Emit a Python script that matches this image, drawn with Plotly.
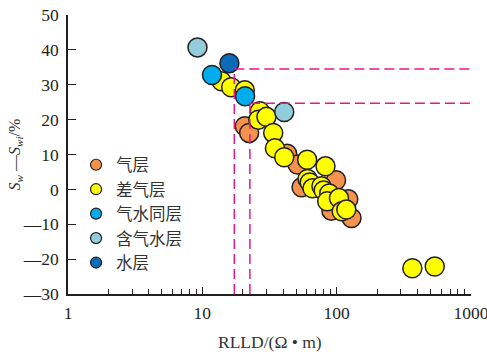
import plotly.graph_objects as go

# Resistivity (RLLD, ohm·m) and Sw - Swi (%) for each layer type
gas_x = [20.7, 22.3, 42.8, 51.1, 54.8, 99, 122, 91.4, 129]
gas_y = [18.1, 16.2, 10.2, 7.1, 0.6, 2.6, -2.8, -6.1, -8.2]

poor_gas_x = [13.9, 16.4, 20.7, 26.8, 26.1, 30.0, 33.7, 34.7, 40.7, 60.3, 82.6,
              60.7, 63, 66, 77, 80, 88, 85, 104, 109, 118, 366, 537]
poor_gas_y = [31.0, 29.3, 28.4, 22.4, 20.0, 20.8, 16.2, 11.8, 9.2, 8.5, 6.6,
              3.0, 2.0, 0.3, 0.9, -0.3, -1.2, -3.4, -2.5, -6.3, -5.8, -22.6, -22.1]

gas_water_x = [11.8, 20.8]
gas_water_y = [32.8, 26.7]

gas_bearing_water_x = [9.2, 40.7]
gas_bearing_water_y = [40.7, 22.2]

water_x = [15.9]
water_y = [36.2]

# Cut-off lines: (resistivity, saturation difference)
cutoff_x = [17.3, 22.6]
cutoff_y = [34.5, 24.7]

x_tickvals = [1, 10, 100, 1000]
x_ticktext = ["1", "10", "100", "1000"]
y_tickvals = [-30, -20, -10, 0, 10, 20, 30, 40, 50]
y_ticktext = ["\u201430", "\u201420", "\u201410", "0", "10", "20", "30", "40", "50"]

series = [
    ("气层", gas_x, gas_y, "#F5924E"),
    ("差气层", poor_gas_x, poor_gas_y, "#FFFF00"),
    ("气水同层", gas_water_x, gas_water_y, "#00AEEF"),
    ("含气水层", gas_bearing_water_x, gas_bearing_water_y, "#92CDDC"),
    ("水层", water_x, water_y, "#0A6CB8"),
]

edge = "#231F20"
fig = go.Figure()

for name, xs, ys, color in series:
    fig.add_trace(go.Scatter(
        x=xs, y=ys, mode="markers", showlegend=False,
        marker=dict(size=19, color=color, line=dict(color=edge, width=1.5)),
    ))

# Legend entries with smaller symbols
for name, xs, ys, color in series:
    fig.add_trace(go.Scatter(
        x=[None], y=[None], mode="markers", name=name,
        marker=dict(size=11, color=color, line=dict(color=edge, width=1.2)),
    ))

dash_color = "#E6178A"
for cx, cy in zip(cutoff_x, cutoff_y):
    fig.add_shape(type="line", xref="x", yref="y", x0=cx, x1=cx, y0=-30, y1=cy,
                  line=dict(color=dash_color, width=1.5, dash="10px,5px"), layer="above")
    fig.add_shape(type="line", xref="x", yref="y", x0=cx, x1=1000, y0=cy, y1=cy,
                  line=dict(color=dash_color, width=1.5, dash="10px,5px"), layer="above")

serif = "Liberation Serif, Times New Roman, serif"

fig.update_layout(
    width=487, height=352,
    margin=dict(l=68, r=16, t=15, b=58),
    paper_bgcolor="white", plot_bgcolor="white",
    font=dict(family=serif, size=17.5, color=edge),
    legend=dict(
        x=0.02, y=0.525, xanchor="left", yanchor="top",
        font=dict(family="Noto Sans CJK SC", size=16.5, color="#333333"),
        bgcolor="rgba(0,0,0,0)", tracegroupgap=0, itemwidth=30,
    ),
    xaxis=dict(
        type="log", range=[0, 3], showgrid=False, zeroline=False,
        showline=True, linecolor=edge, linewidth=1.5, mirror=False,
        automargin=False,
        ticks="inside", ticklen=7, tickwidth=1.3, tickcolor=edge,
        tickmode="array", tickvals=x_tickvals, ticktext=x_ticktext,
        tickfont=dict(family=serif, size=17.5, color=edge),
        ticklabeloverflow="allow", ticklabelstandoff=2,
        minor=dict(ticks="inside", ticklen=5, tickwidth=1.2, tickcolor=edge,
                   tickmode="array",
                   tickvals=[m * d for d in (1, 10, 100) for m in range(2, 10)]),
    ),
    yaxis=dict(
        range=[-30, 50], showgrid=False, zeroline=False,
        showline=True, linecolor=edge, linewidth=1.5, mirror=False,
        automargin=False,
        ticks="inside", ticklen=8, tickwidth=1.3, tickcolor=edge,
        tickmode="array", tickvals=y_tickvals, ticktext=y_ticktext,
        tickfont=dict(family=serif, size=17.5, color=edge),
        ticklabelstandoff=4,
    ),
    annotations=[
        dict(text="RLLD/(Ω • m)", xref="paper", yref="paper", x=0.5, y=0,
             yshift=-48, xanchor="center", yanchor="middle", showarrow=False,
             font=dict(family=serif, size=17.5, color="#333333")),
        dict(text="<i>S</i><sub><i>w</i></sub> —<i>S</i><sub><i>wi</i></sub>/%",
             xref="paper", yref="paper", x=0, y=0.5, xshift=-53,
             xanchor="center", yanchor="middle", textangle=-90, showarrow=False,
             font=dict(family=serif, size=16, color="#333333")),
    ],
)

fig.write_html("out.html")
